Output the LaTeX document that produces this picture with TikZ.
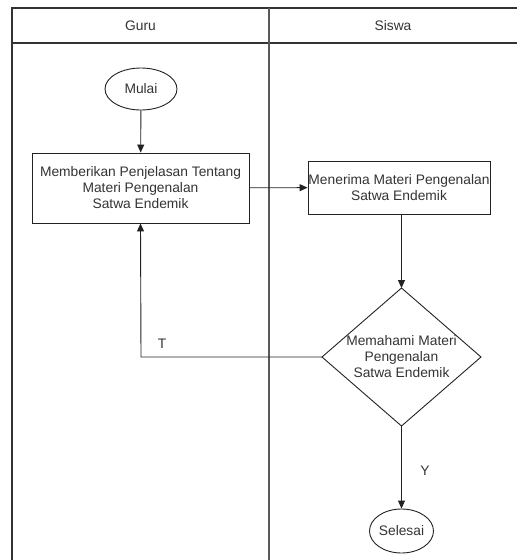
\documentclass[tikz,border=0pt]{standalone}
\usepackage{fontspec}
\setmainfont{Liberation Sans}
\usetikzlibrary{shapes.geometric,arrows.meta}
\definecolor{txt}{HTML}{333333}
\definecolor{ln}{HTML}{222222}
\tikzset{
  every node/.style={font=\fontsize{13.8pt}{16pt}\selectfont, text=txt},
  frame/.style={draw=black!80, line width=1.3pt},
  term/.style={ellipse, draw=ln, line width=0.9pt, minimum width=72pt, minimum height=42pt, inner sep=0pt},
  procbox/.style={rectangle, draw=ln, line width=0.9pt, align=center, inner sep=0pt},
  conn/.style={draw=ln, line width=0.9pt, -{Triangle[length=8pt,width=7pt]}}
}
\begin{document}
\begin{tikzpicture}[x=1pt,y=-1pt]
\useasboundingbox (0,0) rectangle (517,560);
% frame
\draw[frame] (12,560) -- (12,8) -- (517,8);
\draw[frame] (12,43) -- (517,43);
\draw[frame, draw=black!65] (269,8) -- (269,560);
\node (hguru) at (140.5,26) {Guru};
\node (hsiswa) at (393,26) {Siswa};
% nodes
\node[term] (mulai) at (141,89) {Mulai};
\node[procbox, minimum width=217pt, minimum height=70pt] (b1) at (140.5,188) {Memberikan Penjelasan Tentang\\Materi Pengenalan\\Satwa Endemik};
\node[procbox, minimum width=182pt, minimum height=53pt] (b2) at (399,187.5) {Menerima Materi Pengenalan\\Satwa Endemik};
\coordinate (dt) at (401.5,288);
\coordinate (dr) at (481,357);
\coordinate (db) at (401.5,426);
\coordinate (dl) at (322,357);
\draw[draw=ln, line width=0.9pt] (dt) -- (dr) -- (db) -- (dl) -- cycle;
\node[align=center] (dtext) at (401.5,357) {Memahami Materi\\Pengenalan\\Satwa Endemik};
\node[term, minimum width=64pt, minimum height=44pt] (selesai) at (401.5,531) {Selesai};
% connectors
\draw[conn] (mulai) -- (b1);
\draw[conn] (b1) -- (b2);
\draw[conn] (dt |- b2.south) -- (dt);
\draw[conn] (dl) -- (141,357) -- (b1.south);
\draw[conn] (db) -- (selesai);
\node (lt) at (162,344) {T};
\node (ly) at (425,471) {Y};
\end{tikzpicture}
\end{document}
